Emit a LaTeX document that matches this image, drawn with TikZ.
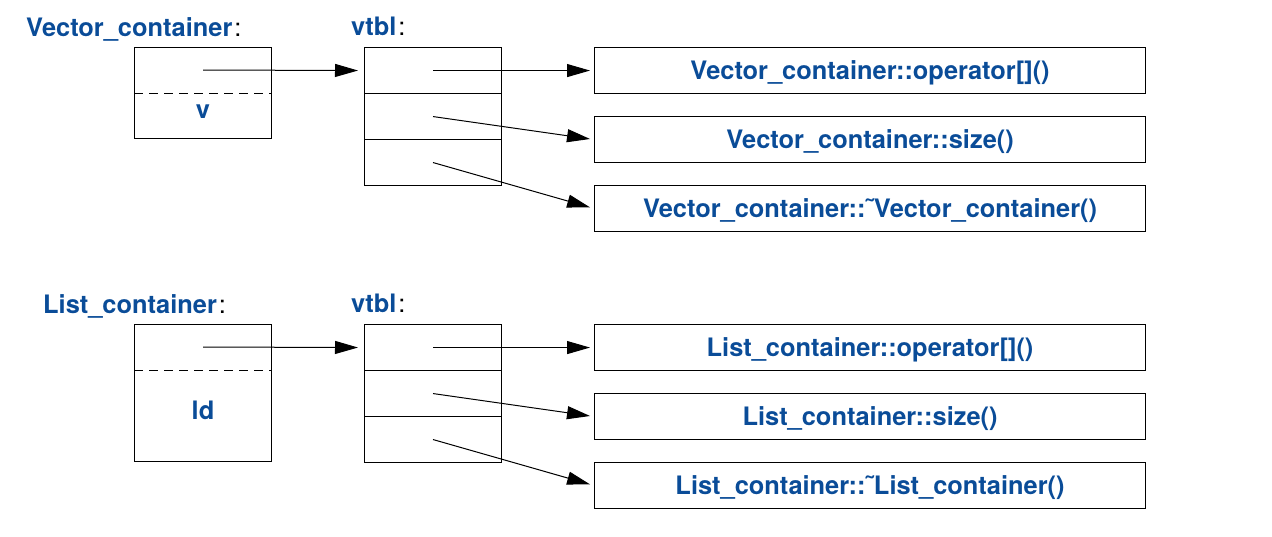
\documentclass[tikz,border=0pt]{standalone}
\usepackage{fontspec}
\setmainfont{TeX Gyre Heros}
\usetikzlibrary{arrows.meta}
\definecolor{lblue}{RGB}{10,76,152}
\newcommand{\blk}[1]{\textcolor{black}{\mdseries\kern2pt#1}}
\begin{document}
\begin{tikzpicture}[x=1pt,y=-1pt,
  lbl/.style={font=\fontsize{25.4}{30}\selectfont\bfseries, text=lblue, inner sep=0pt},
  cellbox/.style={draw, line width=1.1pt, minimum width=137pt, minimum height=46pt, inner sep=0pt, anchor=north west},
  funbox/.style={draw, line width=1.1pt, minimum width=551pt, minimum height=46pt, inner sep=0pt, anchor=north west,
     font=\fontsize{25.4}{30}\selectfont\bfseries, text=lblue, text height=18pt, text depth=0pt},
  objbox/.style={draw, line width=1.1pt, minimum width=137pt, inner sep=0pt, anchor=north west},
  divline/.style={draw, line width=1pt, dash pattern=on 9pt off 6pt},
  ptr/.style={-{Triangle[length=23pt,width=13pt]}, line width=1pt},
]
\useasboundingbox (0,0) rectangle (1272,536);

% ---------- Vector_container ----------
\node[lbl, anchor=base west] (vlab) at (26,36) {Vector\_container\blk{:}};
\node[lbl, anchor=base west] (vtlab) at (351,35) {vtbl\blk{:}};
\node[objbox, minimum height=91pt] (vobj) at (134,47) {};
\draw[divline] ([yshift=-46pt]vobj.north west) -- ([yshift=-46pt]vobj.north east);
\node[lbl, anchor=base] (vv) at (203,118) {v};
\coordinate (vp) at (203,70);

\node[cellbox] (vc1) at (364,47) {};
\node[cellbox] (vc2) at (364,93) {};
\node[cellbox] (vc3) at (364,139) {};

\node[funbox] (vf1) at (594,47) {Vector\_container::operator[]()};
\node[funbox] (vf2) at (594,116) {Vector\_container::size()};
\node[funbox] (vf3) at (594,185) {Vector\_container::\char"02DC Vector\_container()};

\draw[ptr, shorten >=6pt] (vp) -- (vc1.west);
\draw[ptr, shorten >=4pt] (vc1.center) -- (vf1.west);
\draw[ptr, shorten >=4pt] (vc2.center) -- (vf2.west);
\draw[ptr, shorten >=4pt] (vc3.center) -- (vf3.west);

% ---------- List_container ----------
\node[lbl, anchor=base west] (llab) at (43,313) {List\_container\blk{:}};
\node[lbl, anchor=base west] (ltlab) at (351,312) {vtbl\blk{:}};
\node[objbox, minimum height=137pt] (lobj) at (134,324) {};
\draw[divline] ([yshift=-46pt]lobj.north west) -- ([yshift=-46pt]lobj.north east);
\node[lbl, anchor=base] (ld) at (203,419) {ld};
\coordinate (lp) at (203,347);

\node[cellbox] (lc1) at (364,324) {};
\node[cellbox] (lc2) at (364,370) {};
\node[cellbox] (lc3) at (364,416) {};

\node[funbox] (lf1) at (594,324) {List\_container::operator[]()};
\node[funbox] (lf2) at (594,393) {List\_container::size()};
\node[funbox] (lf3) at (594,462) {List\_container::\char"02DC List\_container()};

\draw[ptr, shorten >=6pt] (lp) -- (lc1.west);
\draw[ptr, shorten >=4pt] (lc1.center) -- (lf1.west);
\draw[ptr, shorten >=4pt] (lc2.center) -- (lf2.west);
\draw[ptr, shorten >=4pt] (lc3.center) -- (lf3.west);
\end{tikzpicture}
\end{document}
